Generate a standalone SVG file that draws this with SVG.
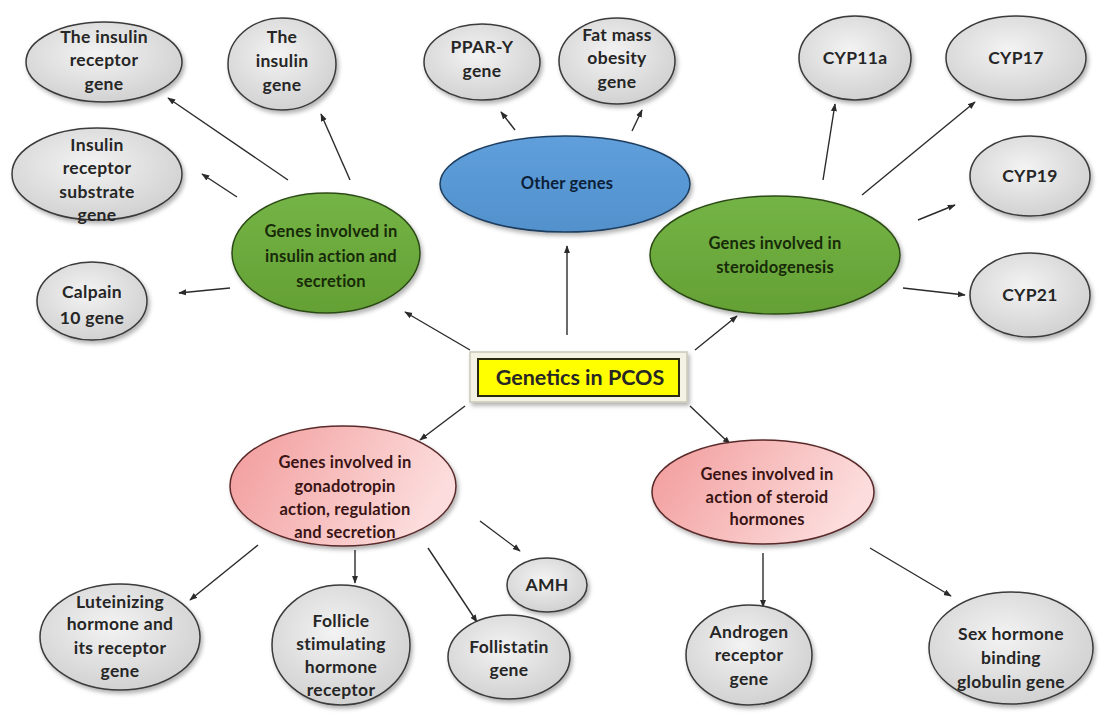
<svg xmlns="http://www.w3.org/2000/svg" width="1112" height="717" viewBox="0 0 1112 717">
<defs>
<radialGradient id="gGrey" cx="45%" cy="40%" r="65%">
<stop offset="0" stop-color="#f3f3f3"/><stop offset="1" stop-color="#cfcfcf"/>
</radialGradient>
<linearGradient id="gPink" x1="0" y1="0" x2="1" y2="0.3">
<stop offset="0" stop-color="#f29a9a"/><stop offset="1" stop-color="#fcdcdc"/>
</linearGradient>
<linearGradient id="gGreen" x1="0" y1="0" x2="0" y2="1">
<stop offset="0" stop-color="#74b446"/><stop offset="1" stop-color="#64a034"/>
</linearGradient>
<linearGradient id="gBlue" x1="0" y1="0" x2="0" y2="1">
<stop offset="0" stop-color="#5f9fdb"/><stop offset="1" stop-color="#5291cc"/>
</linearGradient>
<filter id="sh" x="-20%" y="-20%" width="140%" height="150%">
<feDropShadow dx="2" dy="3" stdDeviation="2" flood-color="#000" flood-opacity="0.3"/>
</filter>
<marker id="ah" viewBox="0 0 10 10" refX="9" refY="5" markerWidth="8" markerHeight="8" orient="auto" markerUnits="userSpaceOnUse">
<path d="M0,1.2 L10,5 L0,8.8 z" fill="#2b2b2b"/>
</marker>
</defs>
<style>
.grey{fill:url(#gGrey);stroke:#3a3a3a;stroke-width:1.5;filter:url(#sh)}
.green{fill:url(#gGreen);stroke:#2c4a16;stroke-width:1.5;filter:url(#sh)}
.blue{fill:url(#gBlue);stroke:#1d3d5e;stroke-width:1.5;filter:url(#sh)}
.pink{fill:url(#gPink);stroke:#5a2a2a;stroke-width:1.5;filter:url(#sh)}
text{font-family:Lato,"Liberation Sans",sans-serif;font-weight:bold;font-size:16.5px;letter-spacing:0.2px;text-anchor:middle}
.tg{fill:#262626;font-size:17.5px;letter-spacing:0.3px}
.tgr{fill:#172a08}
.tb{fill:#0c2038}
.tp{fill:#3a1414}
.conn line{stroke:#2b2b2b;stroke-width:1.4;marker-end:url(#ah)}
</style>
<rect width="1112" height="717" fill="#ffffff"/>

<g class="conn" id="connectors">
<line x1="470" y1="350" x2="405" y2="312"/>
<line x1="567" y1="335" x2="567" y2="246"/>
<line x1="695" y1="350" x2="737" y2="316"/>
<line x1="465" y1="406" x2="420" y2="440"/>
<line x1="690" y1="406" x2="730" y2="444"/>
<line x1="288" y1="180" x2="168" y2="98"/>
<line x1="350" y1="180" x2="321" y2="114"/>
<line x1="237" y1="197" x2="202" y2="174"/>
<line x1="230" y1="288" x2="179" y2="293"/>
<line x1="515" y1="130" x2="501" y2="112"/>
<line x1="632" y1="131" x2="642" y2="110"/>
<line x1="823" y1="180" x2="835" y2="104"/>
<line x1="862" y1="195" x2="975" y2="102"/>
<line x1="918" y1="220" x2="955" y2="205"/>
<line x1="903" y1="288" x2="965" y2="295"/>
<line x1="258" y1="545" x2="190" y2="600"/>
<line x1="355" y1="550" x2="355" y2="583"/>
<line x1="428" y1="548" x2="477" y2="622"/>
<line x1="480" y1="521" x2="520" y2="551"/>
<line x1="763" y1="553" x2="763" y2="607"/>
<line x1="870" y1="548" x2="951" y2="596"/>
</g>

<g id="center">
<rect x="470" y="352" width="217" height="50" fill="#f4f2e4" stroke="#c9c7b8" stroke-width="1.5" filter="url(#sh)"/>
<rect x="478" y="359" width="201" height="37" fill="#ffff00" stroke="#2a2a10" stroke-width="2"/>
<text x="580" y="385" style="font-size:21.5px;letter-spacing:0" fill="#262626">Genetics in PCOS</text>
</g>

<g id="insulin-action">
<ellipse cx="326" cy="253" rx="94" ry="60" class="green"/>
<text x="331" y="237" class="tgr">Genes involved in</text>
<text x="331" y="262" class="tgr">insulin action and</text>
<text x="331" y="287" class="tgr">secretion</text>
</g>

<g id="other-genes">
<ellipse cx="565" cy="184" rx="125" ry="48" class="blue"/>
<text x="567" y="189" class="tb">Other genes</text>
</g>

<g id="steroidogenesis">
<ellipse cx="775" cy="255" rx="125" ry="59" class="green"/>
<text x="775" y="249" class="tgr">Genes involved in</text>
<text x="775" y="273" class="tgr">steroidogenesis</text>
</g>

<g id="gonadotropin">
<ellipse cx="343" cy="486" rx="113" ry="60" class="pink"/>
<text x="345" y="468" class="tp">Genes involved in</text>
<text x="345" y="492" class="tp">gonadotropin</text>
<text x="345" y="515" class="tp">action, regulation</text>
<text x="345" y="538" class="tp">and secretion</text>
</g>

<g id="steroid-action">
<ellipse cx="763" cy="492" rx="111" ry="52" class="pink"/>
<text x="767" y="480" class="tp">Genes involved in</text>
<text x="767" y="503" class="tp">action of steroid</text>
<text x="767" y="525" class="tp">hormones</text>
</g>

<g id="insulin-receptor">
<ellipse cx="104" cy="62" rx="78" ry="40" class="grey"/>
<text x="104" y="43" class="tg">The insulin</text>
<text x="104" y="66" class="tg">receptor</text>
<text x="104" y="90" class="tg">gene</text>
</g>

<g id="insulin-gene">
<ellipse cx="282" cy="64" rx="54" ry="46" class="grey"/>
<text x="282" y="43" class="tg">The</text>
<text x="282" y="67" class="tg">insulin</text>
<text x="282" y="91" class="tg">gene</text>
</g>

<g id="irs-gene">
<ellipse cx="97" cy="174" rx="85" ry="46" class="grey"/>
<text x="97" y="151" class="tg">Insulin</text>
<text x="97" y="174" class="tg">receptor</text>
<text x="97" y="198" class="tg">substrate</text>
<text x="97" y="221" class="tg">gene</text>
</g>

<g id="calpain">
<ellipse cx="92" cy="301" rx="55" ry="39" class="grey"/>
<text x="92" y="298" class="tg">Calpain</text>
<text x="92" y="324" class="tg">10 gene</text>
</g>

<g id="ppar">
<ellipse cx="482" cy="62" rx="58" ry="38" class="grey"/>
<text x="482" y="53" class="tg">PPAR-Y</text>
<text x="482" y="77" class="tg">gene</text>
</g>

<g id="fat-mass">
<ellipse cx="617" cy="61" rx="58" ry="43" class="grey"/>
<text x="617" y="41" class="tg">Fat mass</text>
<text x="617" y="64" class="tg">obesity</text>
<text x="617" y="88" class="tg">gene</text>
</g>

<g id="cyp11a">
<ellipse cx="855" cy="58" rx="56" ry="42" class="grey"/>
<text x="855" y="64" class="tg">CYP11a</text>
</g>

<g id="cyp17">
<ellipse cx="1016" cy="58" rx="70" ry="42" class="grey"/>
<text x="1016" y="64" class="tg">CYP17</text>
</g>

<g id="cyp19">
<ellipse cx="1030" cy="176" rx="60" ry="40" class="grey"/>
<text x="1030" y="182" class="tg">CYP19</text>
</g>

<g id="cyp21">
<ellipse cx="1030" cy="295" rx="60" ry="42" class="grey"/>
<text x="1030" y="301" class="tg">CYP21</text>
</g>

<g id="amh">
<ellipse cx="547" cy="585" rx="40" ry="27" class="grey"/>
<text x="547" y="591" class="tg">AMH</text>
</g>

<g id="lh">
<ellipse cx="120" cy="637" rx="80" ry="53" class="grey"/>
<text x="120" y="608" class="tg">Luteinizing</text>
<text x="120" y="630" class="tg">hormone and</text>
<text x="120" y="654" class="tg">its receptor</text>
<text x="120" y="677" class="tg">gene</text>
</g>

<g id="fsh">
<ellipse cx="341" cy="645" rx="69" ry="60" class="grey"/>
<text x="341" y="627" class="tg">Follicle</text>
<text x="341" y="650" class="tg">stimulating</text>
<text x="341" y="673" class="tg">hormone</text>
<text x="341" y="696" class="tg">receptor</text>
</g>

<g id="follistatin">
<ellipse cx="509" cy="657" rx="61" ry="42" class="grey"/>
<text x="509" y="653" class="tg">Follistatin</text>
<text x="509" y="676" class="tg">gene</text>
</g>

<g id="androgen">
<ellipse cx="749" cy="655" rx="63" ry="50" class="grey"/>
<text x="749" y="638" class="tg">Androgen</text>
<text x="749" y="661" class="tg">receptor</text>
<text x="749" y="685" class="tg">gene</text>
</g>

<g id="shbg">
<ellipse cx="1011" cy="648" rx="82" ry="56" class="grey"/>
<text x="1011" y="640" class="tg">Sex hormone</text>
<text x="1011" y="664" class="tg">binding</text>
<text x="1011" y="688" class="tg">globulin gene</text>
</g>
</svg>
